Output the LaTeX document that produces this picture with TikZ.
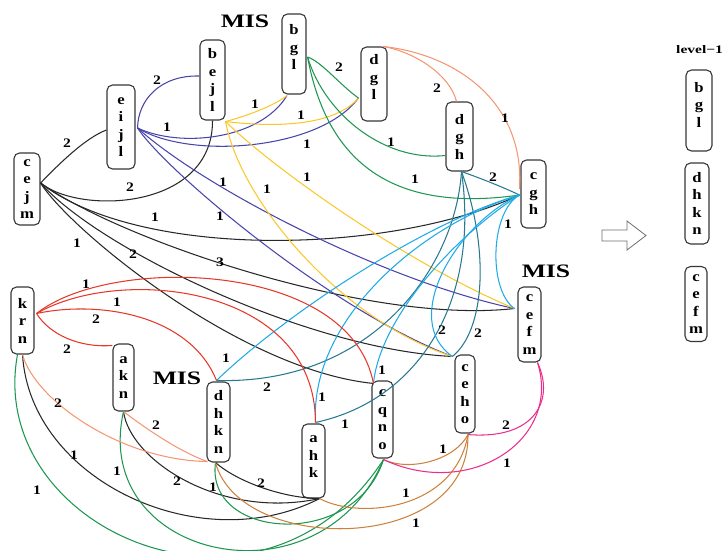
\documentclass[tikz,border=0pt]{standalone}
\usepackage{fontspec}
\setmainfont{Liberation Serif}
\newfontfamily\vfont[FakeStretch=1.15]{Liberation Serif}
\newfontfamily\wfont[FakeStretch=1.2]{Liberation Serif}
\newfontfamily\misfont[FakeStretch=1.35]{Liberation Serif}
\usetikzlibrary{calc}

\definecolor{ink}{RGB}{40,40,40}
\definecolor{boxc}{RGB}{55,55,55}
\definecolor{indigo}{RGB}{72,68,170}
\definecolor{gold}{RGB}{250,200,40}
\definecolor{grn}{RGB}{30,150,80}
\definecolor{salm}{RGB}{245,150,115}
\definecolor{tealc}{RGB}{40,120,145}
\definecolor{cyanc}{RGB}{30,170,230}
\definecolor{redc}{RGB}{230,55,40}
\definecolor{brn}{RGB}{205,130,60}
\definecolor{pnk}{RGB}{235,45,140}
\definecolor{arrc}{RGB}{110,110,110}

% stacked letters of a vertex; optional argument = extra space below the letters
\newcommand\vletters[2][0pt]{\parbox{20pt}{\centering\vfont\bfseries\fontsize{14.5}{17.5}\selectfont #2\par\vspace*{#1}}}

\begin{document}
\begin{tikzpicture}[x=1pt,y=-1pt,
  vx/.style={draw=boxc, line width=1.1pt, rounded corners=5.5pt, fill=white, inner sep=0pt},
  wt/.style={font=\wfont\bfseries\fontsize{13}{15}\selectfont, inner sep=0pt},
  mis/.style={font=\misfont\bfseries\fontsize{19}{22}\selectfont, inner sep=0pt},
  cn/.style={line width=1.05pt}]
\useasboundingbox (0,0) rectangle (726,550);

% ---- vertices ----
\node[vx, minimum width=26pt, minimum height=72pt] (cejm) at (27,189) {\vletters{c\\e\\j\\m}};
\node[vx, minimum width=28pt, minimum height=84pt] (eijl) at (121,127) {\vletters{e\\i\\j\\l}};
\node[vx, minimum width=25pt, minimum height=80pt] (bejl) at (212.5,80) {\vletters{b\\e\\j\\l}};
\node[vx, minimum width=24pt, minimum height=80pt] (bgl) at (294,54) {\vletters[14pt]{b\\g\\l}};
\node[vx, minimum width=26pt, minimum height=74pt] (dgl) at (374,84) {\vletters[14pt]{d\\g\\l}};
\node[vx, minimum width=27pt, minimum height=69pt] (dgh) at (459.5,136.5) {\vletters{d\\g\\h}};
\node[vx, minimum width=25pt, minimum height=68pt] (cgh) at (533.5,194) {\vletters{c\\g\\h}};
\node[vx, minimum width=23pt, minimum height=75pt] (cefm) at (529.5,324.5) {\vletters{c\\e\\f\\m}};
\node[vx, minimum width=20pt, minimum height=78pt] (ceho) at (465,394) {\vletters{c\\e\\h\\o}};
\node[vx, minimum width=21pt, minimum height=77pt] (cqno) at (382.5,419.5) {\vletters{c\\q\\n\\o}};
\node[vx, minimum width=23pt, minimum height=74pt] (ahk) at (313.5,461) {\vletters[8pt]{a\\h\\k}};
\node[vx, minimum width=23pt, minimum height=80pt] (dhkn) at (218.5,422) {\vletters{d\\h\\k\\n}};
\node[vx, minimum width=21pt, minimum height=67pt] (akn) at (123.5,377.5) {\vletters{a\\k\\n}};
\node[vx, minimum width=23pt, minimum height=67pt] (krn) at (22.5,320.5) {\vletters{k\\r\\n}};

% ---- level-1 column ----
\node[wt, anchor=west, font=\misfont\bfseries\fontsize{11.5}{13}\selectfont] (lvl) at (676,50) {level−1};
\node[vx, minimum width=26pt, minimum height=81pt] (rbgl) at (699,110.5) {\vletters[12pt]{b\\g\\l}};
\node[vx, minimum width=24pt, minimum height=81pt] (rdhkn) at (697,203.5) {\vletters{d\\h\\k\\n}};
\node[vx, minimum width=22pt, minimum height=75pt] (rcefm) at (696,304) {\vletters{c\\e\\f\\m}};

% ---- MIS marks ----
\node[mis] (mis1) at (245,21) {MIS};
\node[mis] (mis2) at (546,271) {MIS};
\node[mis] (mis3) at (177,378) {MIS};

% ---- hollow arrow ----
\draw[arrc, line width=0.8pt, fill=white]
  (602,230) -- (627,230) -- (627,221) -- (646,235.5) -- (627,250) -- (627,241) -- (602,241) -- cycle;

% ---- ports ----
\coordinate (cejm-o) at ($(cejm.east)+(0,-6)$);
\coordinate (eijl-w) at ($(eijl.west)+(0,3)$);
\coordinate (eijl-e) at ($(eijl.east)+(2,1)$);
\coordinate (bejl-w) at ($(bejl.west)+(0,-4)$);
\coordinate (bejl-se) at ($(bejl.south east)+(0,1)$);
\coordinate (bgl-s) at ($(bgl.south)+(-7,1)$);
\coordinate (bgl-e) at ($(bgl.east)+(1,3)$);
\coordinate (dgl-w) at ($(dgl.west)+(-2,14)$);
\coordinate (dgl-n) at ($(dgl.north)+(9,0)$);
\coordinate (dgh-w) at ($(dgh.west)+(0,19)$);
\coordinate (dgh-n) at ($(dgh.north)+(-3,0)$);
\coordinate (dgh-s) at ($(dgh.south)+(2,0)$);
\coordinate (cgh-w) at ($(cgh.west)+(-1,1)$);
\coordinate (cgh-nw) at ($(cgh.west)+(-1,-5)$);
\coordinate (cefm-w) at ($(cefm.west)+(-3,-16)$);
\coordinate (cefm-s) at ($(cefm.south)+(8,0)$);
\coordinate (ceho-n) at ($(ceho.north west)+(-2,2)$);
\coordinate (ceho-s) at ($(ceho.south)+(3,1)$);
\coordinate (cqno-n) at ($(cqno.north west)+(2,3)$);
\coordinate (cqno-s) at ($(cqno.south)+(1,1)$);
\coordinate (ahk-n) at ($(ahk.north)+(2,-1)$);
\coordinate (ahk-s) at ($(ahk.south)+(6,0)$);
\coordinate (dhkn-n) at ($(dhkn.north)+(-2,-1)$);
\coordinate (dhkn-s) at ($(dhkn.south)+(-3,0)$);
\coordinate (dhkn-sw) at ($(dhkn.south west)+(1,-1)$);
\coordinate (akn-n) at ($(akn.north west)+(0,2)$);
\coordinate (akn-s) at (akn.south);
\coordinate (krn-e) at ($(krn.east)+(2,-7)$);
\coordinate (krn-s) at (krn.south);
\coordinate (krn-sg) at ($(krn.south)+(-5,0)$);

% ---- black ----
\draw[cn, ink] (cejm-o) .. controls (58,165) and (85,138) .. (eijl-w);
\draw[cn, ink] (cejm-o) .. controls (80,215) and (213,210) .. (bejl.south);
\draw[cn, ink] (cejm-o) .. controls (140,260) and (390,255) .. (cgh-w);
\draw[cn, ink] (cejm-o) .. controls (120,240) and (370,325) .. (cefm-w);
\draw[cn, ink] (cejm-o) .. controls (100,250) and (310,350) .. (ceho-n);
\draw[cn, ink] (cejm-o) .. controls (70,230) and (240,370) .. (cqno-n);
\draw[cn, ink] (krn-s) .. controls (30,480) and (200,560) .. (ahk-s);
\draw[cn, ink] (akn-s) .. controls (130,460) and (220,520) .. (ahk-s);
\draw[cn, ink] (dhkn-s) .. controls (235,480) and (280,498) .. (ahk-s);

% ---- indigo ----
\draw[cn, indigo] (eijl-e) .. controls (138,100) and (160,75) .. (bejl-w);
\draw[cn, indigo] (eijl-e) .. controls (180,148) and (260,140) .. (bgl-s);
\draw[cn, indigo] (eijl-e) .. controls (190,160) and (320,150) .. (dgl-w);
\draw[cn, indigo] (eijl-e) .. controls (200,185) and (380,280) .. (cefm-w);
\draw[cn, indigo] (eijl-e) .. controls (165,170) and (330,310) .. (ceho-n);

% ---- gold ----
\draw[cn, gold] (bejl-se) .. controls (250,115) and (275,105) .. (bgl-s);
\draw[cn, gold] (bejl-se) .. controls (280,128) and (335,125) .. (dgl-w);
\draw[cn, gold] (bejl-se) .. controls (275,170) and (410,265) .. (cefm-w);
\draw[cn, gold] (bejl-se) .. controls (240,200) and (340,320) .. (ceho-n);

% ---- green ----
\draw[cn, grn] (bgl-e) .. controls (322,62) and (340,85) .. (dgl-w);
\draw[cn, grn] (bgl-e) .. controls (325,115) and (385,162) .. (dgh-w);
\draw[cn, grn] (bgl-e) .. controls (325,150) and (380,215) .. (cgh-w);
\draw[cn, grn] (krn-sg) .. controls (-15,530) and (260,650) .. (cqno-s);
\draw[cn, grn] (akn-s) .. controls (90,560) and (320,610) .. (cqno-s);
\draw[cn, grn] (dhkn-s) .. controls (205,540) and (355,550) .. (cqno-s);

% ---- salmon ----
\draw[cn, salm] (dgl-n) .. controls (415,52) and (450,75) .. (dgh-n);
\draw[cn, salm] (dgl-n) .. controls (460,55) and (525,105) .. (cgh-nw);
\draw[cn, salm] (krn-s) .. controls (35,400) and (120,460) .. (dhkn-sw);
\draw[cn, salm] (akn-s) .. controls (145,428) and (180,452) .. (dhkn-sw);

% ---- teal ----
\draw[cn, tealc] (dgh-s) .. controls (480,178) and (505,188) .. (cgh-w);
\draw[cn, tealc] (dgh-s) .. controls (455,270) and (370,385) .. (dhkn-n);
\draw[cn, tealc] (dgh-s) .. controls (480,300) and (420,400) .. (ahk-n);
\draw[cn, tealc] (dgh-s) .. controls (490,250) and (485,330) .. (ceho-n);

% ---- cyan ----
\draw[cn, cyanc] (cgh-w) .. controls (490,212) and (488,290) .. (cefm-w);
\draw[cn, cyanc] (cgh-w) .. controls (455,225) and (400,320) .. (ceho-n);
\draw[cn, cyanc] (cgh-w) .. controls (450,240) and (380,320) .. (cqno-n);
\draw[cn, cyanc] (cgh-w) .. controls (420,225) and (310,320) .. (ahk-n);
\draw[cn, cyanc] (cgh-w) .. controls (430,220) and (290,310) .. (dhkn-n);

% ---- red ----
\draw[cn, redc] (krn-e) .. controls (110,255) and (350,260) .. (cqno-n);
\draw[cn, redc] (krn-e) .. controls (120,265) and (315,285) .. (ahk-n);
\draw[cn, redc] (krn-e) .. controls (100,300) and (190,315) .. (dhkn-n);
\draw[cn, redc] (krn-e) .. controls (50,335) and (80,348) .. (akn-n);

% ---- brown ----
\draw[cn, brn] (cqno-s) .. controls (410,472) and (455,460) .. (ceho-s);
\draw[cn, brn] (ahk-s) .. controls (360,520) and (455,510) .. (ceho-s);
\draw[cn, brn] (dhkn-s) .. controls (240,555) and (470,555) .. (ceho-s);

% ---- pink ----
\draw[cn, pnk] (cefm-s) .. controls (555,400) and (535,440) .. (ceho-s);
\draw[cn, pnk] (cefm-s) .. controls (562,440) and (470,500) .. (cqno-s);

% ---- weights ----
\node[wt] (w01) at (67,143) {2};
\node[wt] (w02) at (130,187) {2};
\node[wt] (w03) at (155,217) {1};
\node[wt] (w04) at (220,262) {3};
\node[wt] (w05) at (133,254) {2};
\node[wt] (w06) at (77,243) {1};
\node[wt] (w07) at (74,455) {1};
\node[wt] (w08) at (177,481) {2};
\node[wt] (w09) at (261,483) {2};
\node[wt] (w10) at (157,80) {2};
\node[wt] (w11) at (167,127) {1};
\node[wt] (w12) at (307,144) {1};
\node[wt] (w13) at (223,182) {1};
\node[wt] (w14) at (220,216) {1};
\node[wt] (w15) at (255,104) {1};
\node[wt] (w16) at (301,115) {1};
\node[wt] (w17) at (307,177) {1};
\node[wt] (w18) at (267,189) {1};
\node[wt] (w19) at (339,67) {2};
\node[wt] (w20) at (391,142) {1};
\node[wt] (w21) at (415,179) {1};
\node[wt] (w22) at (37,490) {1};
\node[wt] (w23) at (117,471) {1};
\node[wt] (w24) at (213,487) {1};
\node[wt] (w25) at (437,88) {2};
\node[wt] (w26) at (505,118) {1};
\node[wt] (w27) at (58,403) {2};
\node[wt] (w28) at (156,425) {2};
\node[wt] (w29) at (493,177) {2};
\node[wt] (w30) at (267,387) {2};
\node[wt] (w31) at (345,424) {1};
\node[wt] (w32) at (478,333) {2};
\node[wt] (w33) at (508,224) {1};
\node[wt] (w34) at (442,330) {2};
\node[wt] (w35) at (382,370) {1};
\node[wt] (w36) at (322,397) {1};
\node[wt] (w37) at (226,358) {1};
\node[wt] (w38) at (86,284) {1};
\node[wt] (w39) at (117,302) {1};
\node[wt] (w40) at (96,319) {2};
\node[wt] (w41) at (67,349) {2};
\node[wt] (w42) at (443,449) {1};
\node[wt] (w43) at (406,493) {1};
\node[wt] (w44) at (416,523) {1};
\node[wt] (w45) at (506,425) {2};
\node[wt] (w46) at (507,463) {1};
\end{tikzpicture}
\end{document}
